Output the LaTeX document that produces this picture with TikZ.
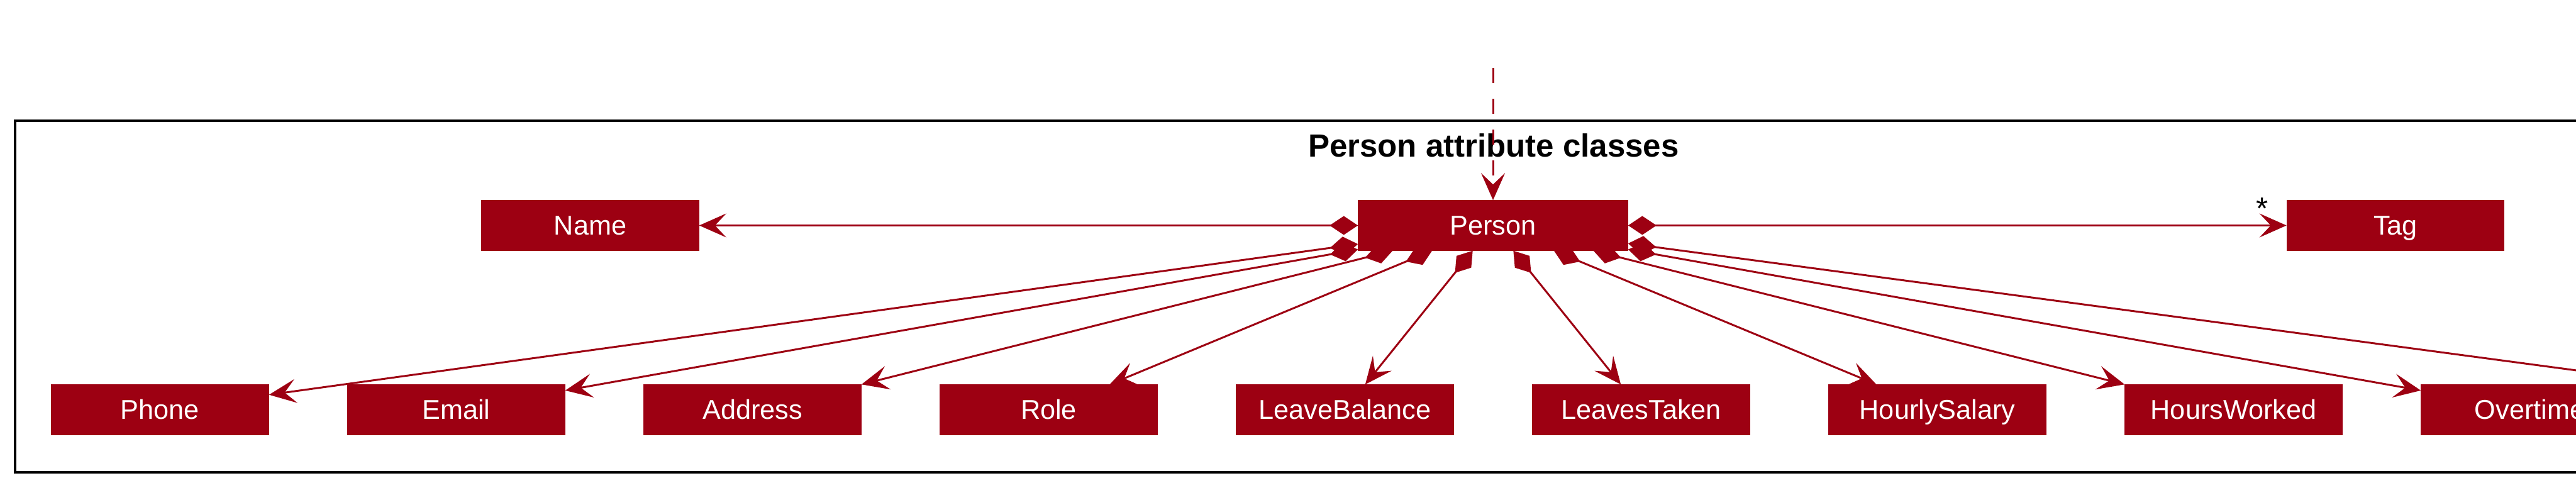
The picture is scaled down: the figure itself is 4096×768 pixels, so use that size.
\documentclass[tikz,border=0pt]{standalone}
\usepackage{fontspec}
\setmainfont{Liberation Sans}
\usetikzlibrary{arrows.meta}
\definecolor{modelcol}{HTML}{9D0012}

\begin{document}
\begin{tikzpicture}[x=0.01cm,y=-0.01cm,
  classbox/.style={fill=modelcol, draw=modelcol, text=white, inner sep=0pt,
    minimum width=3.45cm, minimum height=0.79cm, text height=0.31cm, text depth=0pt,
    font=\fontsize{12.3}{14}\selectfont},
  compo/.style={modelcol, line width=0.03cm,
    {Diamond[length=0.45cm,width=0.30cm]}-{Stealth[length=0.43cm,width=0.38cm,inset=0.18cm]}},
  depend/.style={modelcol, line width=0.03cm, dash pattern=on 0.24cm off 0.25cm,
    -{Stealth[length=0.43cm,width=0.38cm,inset=0.18cm]}},
  pkgframe/.style={black, line width=0.045cm},
  pkgtitle/.style={anchor=base, font=\fontsize{14.5}{17}\selectfont\bfseries},
  mult/.style={anchor=base, font=\fontsize{14}{16}\selectfont}]
\useasboundingbox (0,0) rectangle (4096,768);
\clip (0,0) rectangle (4096,768);
\draw[pkgframe](24,192) rectangle (4724,751);
\node[pkgtitle] (pkgTitle) at (2375,250) {Person attribute classes};
\node[classbox, minimum width=4.28cm] (Person) at (2374,358.5) {Person};
\node[classbox] (Name) at (938.5,358.5) {Name};
\node[classbox] (Tag) at (3809,358.5) {Tag};
   \newcommand{\attrRow}{Phone,Email,Address,Role,LeaveBalance,LeavesTaken,HourlySalary,HoursWorked,Overtime}
\foreach \cls [count=\i from 0] in \attrRow{
   	\node[classbox] (\cls) at ({254.5+471*\i},651.5) {\cls};
   }
\coordinate (caller) at (2374,108);
\coordinate (Extra) at (4321,619);
%------------------
\draw[depend](caller)--(Person);
\draw[compo](Person)--(Name.east);
\draw[compo](Person)--(Tag.west);
\node[mult] (tagMult) at (3597,349) {*};
\draw[compo](Person)--(Phone);
\draw[compo](Person)--(Email);
\draw[compo](Person)--(Address.north east);
\draw[compo](Person)--(Role);
\draw[compo](Person)--(LeaveBalance);
\draw[compo](Person)--(LeavesTaken);
\draw[compo](Person)--(HourlySalary);
\draw[compo](Person)--(HoursWorked.north west);
\draw[compo](Person)--(Overtime);
\draw[compo](Person)--(Extra);
\end{tikzpicture}
\end{document}
